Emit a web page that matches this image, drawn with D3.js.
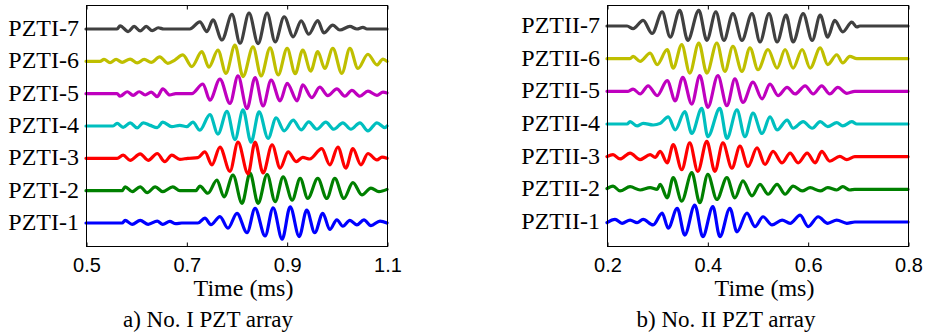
<!DOCTYPE html>
<html>
<head>
<meta charset="utf-8">
<script src="https://cdn.jsdelivr.net/npm/d3@7"></script>
<style>
  body { margin: 0; background: #fff; }
  svg { display: block; }
</style>
</head>
<body>
<svg id="chart" width="928" height="335"></svg>
<script>
// extrema of each trace: [time (ms), amplitude in units of trace spacing]
const pztI7 = [[0.5,0],[0.562,0],[0.568,0.1],[0.584,-0.08],[0.596,0.08],[0.608,-0.06],[0.620,0.08],[0.632,-0.05],[0.644,0.04],[0.655,0],[0.707,0],[0.727,0.22],[0.741,-0.08],[0.753,0.28],[0.771,-0.34],[0.791,0.45],[0.807,-0.44],[0.825,0.49],[0.843,-0.45],[0.861,0.49],[0.877,-0.4],[0.895,0.38],[0.913,-0.24],[0.929,0.25],[0.944,-0.16],[0.962,0.26],[0.974,-0.12],[0.992,0.12],[1.006,-0.03],[1.026,0.08],[1.040,0],[1.052,0.05],[1.060,0],[1.1,0]];
const pztI6 = [[0.5,0],[0.528,0],[0.536,0.06],[0.548,-0.04],[0.560,0.06],[0.572,-0.03],[0.588,0.07],[0.602,-0.05],[0.616,0.06],[0.630,-0.03],[0.647,0.14],[0.663,-0.06],[0.677,0.04],[0.693,0.2],[0.711,-0.16],[0.731,0.3],[0.745,-0.18],[0.763,0.35],[0.779,-0.37],[0.797,0.5],[0.813,-0.47],[0.833,0.45],[0.849,-0.45],[0.867,0.42],[0.883,-0.42],[0.901,0.4],[0.917,-0.38],[0.932,0.35],[0.948,-0.3],[0.962,0.3],[0.976,-0.22],[0.992,0.4],[1.010,-0.37],[1.026,0.4],[1.042,-0.22],[1.062,0.22],[1.080,-0.11],[1.092,0.07],[1.1,0]];
const pztI5 = [[0.5,0],[0.562,0],[0.568,-0.08],[0.582,0.06],[0.594,-0.05],[0.606,0.06],[0.618,-0.04],[0.630,0.05],[0.642,-0.09],[0.653,0.15],[0.667,-0.04],[0.679,0],[0.711,0],[0.733,0.3],[0.747,-0.2],[0.767,0.45],[0.787,-0.3],[0.803,0.55],[0.821,-0.46],[0.837,0.5],[0.853,-0.38],[0.869,0.42],[0.887,-0.22],[0.901,0.32],[0.921,-0.22],[0.932,0.27],[0.950,-0.12],[0.966,0.2],[0.982,-0.06],[1.000,0.15],[1.016,-0.08],[1.030,0.1],[1.046,-0.08],[1.062,0.08],[1.080,-0.05],[1.092,0.05],[1.1,0.02]];
const pztI4 = [[0.5,0],[0.554,0],[0.562,0.08],[0.574,-0.04],[0.588,0.1],[0.602,-0.06],[0.614,0.1],[0.628,0.02],[0.642,-0.05],[0.653,0.12],[0.671,-0.02],[0.687,0.02],[0.701,-0.02],[0.713,0.12],[0.727,-0.13],[0.747,0.35],[0.763,-0.25],[0.781,0.45],[0.797,-0.42],[0.813,0.5],[0.829,-0.5],[0.845,0.44],[0.863,-0.38],[0.879,0.25],[0.895,-0.15],[0.913,0.18],[0.929,-0.12],[0.944,0.13],[0.960,-0.1],[0.978,0.12],[0.994,-0.1],[1.012,0.1],[1.028,-0.1],[1.046,0.1],[1.062,-0.15],[1.080,0.1],[1.096,-0.05],[1.1,0]];
const pztI3 = [[0.5,0],[0.562,0],[0.574,0.1],[0.588,-0.06],[0.608,0.14],[0.624,-0.06],[0.642,0.15],[0.657,-0.1],[0.671,0.1],[0.687,-0.03],[0.703,0],[0.723,0.02],[0.737,0.2],[0.751,-0.2],[0.767,0.35],[0.787,-0.4],[0.803,0.5],[0.823,-0.48],[0.837,0.5],[0.853,-0.45],[0.871,0.42],[0.887,-0.3],[0.903,0.2],[0.919,-0.1],[0.932,0.03],[0.946,-0.02],[0.970,0.3],[0.986,-0.2],[1.002,0.35],[1.018,-0.3],[1.032,0.3],[1.048,-0.2],[1.062,0.15],[1.080,-0.05],[1.090,0.04],[1.1,0]];
const pztI2 = [[0.5,0],[0.572,0],[0.578,0.12],[0.592,-0.03],[0.608,0.12],[0.622,-0.06],[0.638,0.12],[0.653,-0.03],[0.673,0.12],[0.687,0],[0.719,0],[0.727,0.14],[0.743,-0.08],[0.761,0.33],[0.775,-0.19],[0.793,0.48],[0.811,-0.39],[0.827,0.54],[0.843,-0.39],[0.861,0.5],[0.877,-0.34],[0.893,0.43],[0.911,-0.29],[0.927,0.38],[0.942,-0.24],[0.962,0.38],[0.980,-0.24],[0.996,0.38],[1.014,-0.24],[1.032,0.25],[1.050,-0.13],[1.068,0.08],[1.084,-0.03],[1.1,0.04]];
const pztI1 = [[0.5,0],[0.572,0],[0.578,0.08],[0.592,-0.04],[0.608,0.08],[0.624,-0.04],[0.642,0.06],[0.653,-0.04],[0.667,0.05],[0.679,-0.02],[0.691,0],[0.723,0],[0.737,0.15],[0.749,-0.05],[0.767,0.2],[0.783,-0.16],[0.801,0.3],[0.821,-0.3],[0.837,0.45],[0.857,-0.4],[0.873,0.47],[0.891,-0.5],[0.907,0.5],[0.925,-0.42],[0.940,0.4],[0.956,-0.3],[0.972,0.3],[0.986,-0.2],[1.000,0.1],[1.012,-0.1],[1.026,0.08],[1.040,-0.06],[1.054,0.1],[1.068,-0.08],[1.086,0.06],[1.1,0]];

const pztII7 = [[0.2,0],[0.240,0],[0.252,-0.08],[0.272,0.17],[0.290,-0.23],[0.310,0.43],[0.326,-0.34],[0.345,0.48],[0.361,-0.44],[0.383,0.48],[0.399,-0.44],[0.417,0.43],[0.433,-0.44],[0.451,0.38],[0.469,-0.44],[0.489,0.38],[0.505,-0.49],[0.523,0.38],[0.539,-0.49],[0.557,0.33],[0.571,-0.49],[0.591,0.38],[0.609,-0.44],[0.625,0.33],[0.640,-0.34],[0.654,0.17],[0.670,-0.18],[0.688,0.12],[0.698,-0.03],[0.704,0],[0.8,0]];
const pztII6 = [[0.2,0],[0.246,0],[0.252,0.07],[0.266,-0.08],[0.286,0.17],[0.300,-0.18],[0.320,0.28],[0.332,-0.29],[0.349,0.43],[0.365,-0.44],[0.383,0.48],[0.399,-0.44],[0.419,0.48],[0.435,-0.39],[0.451,0.38],[0.469,-0.39],[0.485,0.33],[0.501,-0.34],[0.521,0.28],[0.539,-0.29],[0.555,0.28],[0.571,-0.29],[0.589,0.28],[0.605,-0.29],[0.625,0.33],[0.640,-0.18],[0.658,0.12],[0.670,-0.13],[0.684,0.07],[0.698,0],[0.8,0]];
const pztII5 = [[0.2,0],[0.242,0],[0.252,0.07],[0.266,-0.08],[0.282,0.17],[0.300,-0.13],[0.320,0.33],[0.336,-0.29],[0.351,0.43],[0.369,-0.39],[0.385,0.48],[0.401,-0.49],[0.421,0.48],[0.439,-0.44],[0.455,0.38],[0.471,-0.34],[0.491,0.28],[0.509,-0.23],[0.525,0.22],[0.541,-0.13],[0.559,0.12],[0.575,-0.08],[0.595,0.17],[0.611,-0.08],[0.628,0.17],[0.644,-0.08],[0.660,0.12],[0.678,-0.06],[0.694,0],[0.8,0]];
const pztII4 = [[0.2,0],[0.240,0],[0.246,0.07],[0.260,-0.06],[0.272,0.02],[0.292,-0.03],[0.306,0.02],[0.322,0.22],[0.336,-0.18],[0.355,0.38],[0.369,-0.29],[0.389,0.48],[0.401,-0.39],[0.425,0.48],[0.439,-0.44],[0.459,0.43],[0.475,-0.39],[0.491,0.33],[0.509,-0.29],[0.525,0.22],[0.539,-0.18],[0.559,0.12],[0.571,-0.13],[0.591,0.07],[0.609,-0.13],[0.625,0.07],[0.640,-0.08],[0.658,0.04],[0.670,-0.06],[0.688,0.07],[0.698,0],[0.8,0]];
const pztII3 = [[0.2,0],[0.212,0.06],[0.226,-0.07],[0.246,0.11],[0.266,-0.09],[0.286,0.06],[0.296,-0.02],[0.306,0.16],[0.320,-0.19],[0.332,0.37],[0.349,-0.4],[0.365,0.42],[0.381,-0.45],[0.399,0.47],[0.415,-0.45],[0.431,0.42],[0.449,-0.35],[0.465,0.32],[0.481,-0.3],[0.499,0.27],[0.515,-0.24],[0.531,0.16],[0.549,-0.19],[0.565,0.11],[0.581,-0.19],[0.599,0.11],[0.615,-0.19],[0.628,0.16],[0.644,-0.14],[0.664,0.01],[0.678,-0.09],[0.694,0],[0.8,0]];
const pztII2 = [[0.2,0.02],[0.212,0.1],[0.226,-0.05],[0.246,0.08],[0.266,-0.02],[0.286,0.05],[0.300,0],[0.306,0.15],[0.320,-0.26],[0.332,0.36],[0.349,-0.36],[0.369,0.51],[0.385,-0.41],[0.401,0.46],[0.419,-0.31],[0.439,0.36],[0.455,-0.26],[0.471,0.26],[0.489,-0.2],[0.505,0.15],[0.521,-0.15],[0.539,0.15],[0.555,-0.15],[0.571,0.1],[0.589,-0.05],[0.605,0.05],[0.625,-0.05],[0.640,0.05],[0.658,-0.02],[0.670,0.08],[0.684,-0.02],[0.694,0],[0.8,0]];
const pztII1 = [[0.2,-0.02],[0.216,0.08],[0.230,-0.04],[0.246,0.06],[0.260,-0.02],[0.272,0.08],[0.292,-0.09],[0.310,0.27],[0.322,-0.19],[0.340,0.42],[0.355,-0.4],[0.375,0.52],[0.391,-0.45],[0.411,0.47],[0.425,-0.45],[0.445,0.42],[0.459,-0.3],[0.479,0.27],[0.495,-0.14],[0.511,0.16],[0.529,-0.09],[0.549,0.06],[0.565,-0.04],[0.585,0.21],[0.601,-0.14],[0.621,0.16],[0.640,-0.04],[0.658,0.06],[0.678,-0.04],[0.694,0],[0.8,0]];

// sensor 1..7, bottom to top
const labelsI = ["PZTI-1", "PZTI-2", "PZTI-3", "PZTI-4", "PZTI-5", "PZTI-6", "PZTI-7"];
const labelsII = ["PZTII-1", "PZTII-2", "PZTII-3", "PZTII-4", "PZTII-5", "PZTII-6", "PZTII-7"];
const colors = ["#0000ff", "#008000", "#ff0000", "#00bfbf", "#bf00bf", "#bfbf00", "#404040"];
const ticksI = [0.5, 0.7, 0.9, 1.1];
const ticksII = [0.2, 0.4, 0.6, 0.8];

const SERIF = "'Liberation Serif', 'Times New Roman', Times, serif";
const SANS = "'Liberation Sans', Arial, Helvetica, sans-serif";
const TOP = 5, BOTTOM = 246;

const panels = [
  { traces: [pztI1, pztI2, pztI3, pztI4, pztI5, pztI6, pztI7], labels: labelsI, ticks: ticksI,
    left: 86, right: 387, yDomain: [0.289, 7.743], caption: "a) No. I PZT array", captionX: 208 },
  { traces: [pztII1, pztII2, pztII3, pztII4, pztII5, pztII6, pztII7], labels: labelsII, ticks: ticksII,
    left: 607, right: 908, yDomain: [0.265, 7.643], caption: "b) No. II PZT array", captionX: 726 },
];

const svg = d3.select('#chart');

panels.forEach(p => {
  const x = d3.scaleLinear().domain(d3.extent(p.ticks)).range([p.left, p.right]);
  const y = d3.scaleLinear().domain(p.yDomain).range([BOTTOM, TOP]);
  const g = svg.append('g');

  p.traces.forEach((trace, i) => {
    const line = d3.line()
      .x(d => x(d[0]))
      .y(d => y(i + 1 + d[1]))
      .curve(d3.curveMonotoneX);

    g.append('path')
      .datum(trace)
      .attr('d', line)
      .attr('fill', 'none')
      .attr('stroke', colors[i])
      .attr('stroke-width', 3.2)
      .attr('stroke-linejoin', 'round')
      .attr('stroke-linecap', 'round');

    g.append('text')
      .attr('x', p.left - 7)
      .attr('y', y(i + 1) + 7)
      .attr('text-anchor', 'end')
      .style('font-family', SERIF)
      .style('font-size', '24px')
      .text(p.labels[i]);
  });

  // box
  g.append('rect')
    .attr('x', p.left + 0.5)
    .attr('y', TOP + 0.5)
    .attr('width', p.right - p.left)
    .attr('height', BOTTOM - TOP)
    .attr('fill', 'none')
    .attr('stroke', '#000')
    .attr('stroke-width', 1);

  const bottomAxis = g.append('g')
    .attr('transform', `translate(0.5,${BOTTOM + 0.5})`)
    .call(d3.axisBottom(x).tickValues(p.ticks).tickSize(-4).tickPadding(11).tickFormat(d3.format('.1f')));
  bottomAxis.select('.domain').remove();
  bottomAxis.selectAll('text')
    .attr('fill', '#000')
    .style('font-family', SANS)
    .style('font-size', '20px');

  const topAxis = g.append('g')
    .attr('transform', `translate(0.5,${TOP + 0.5})`)
    .call(d3.axisTop(x).tickValues(p.ticks).tickSize(-4).tickFormat(''));
  topAxis.select('.domain').remove();

  g.append('text')
    .attr('x', (p.left + p.right) / 2 + 7)
    .attr('y', 296)
    .attr('text-anchor', 'middle')
    .style('font-family', SERIF)
    .style('font-size', '24px')
    .text('Time (ms)');

  g.append('text')
    .attr('x', p.captionX)
    .attr('y', 327)
    .attr('text-anchor', 'middle')
    .style('font-family', SERIF)
    .style('font-size', '23px')
    .text(p.caption);
});
</script>
</body>
</html>
